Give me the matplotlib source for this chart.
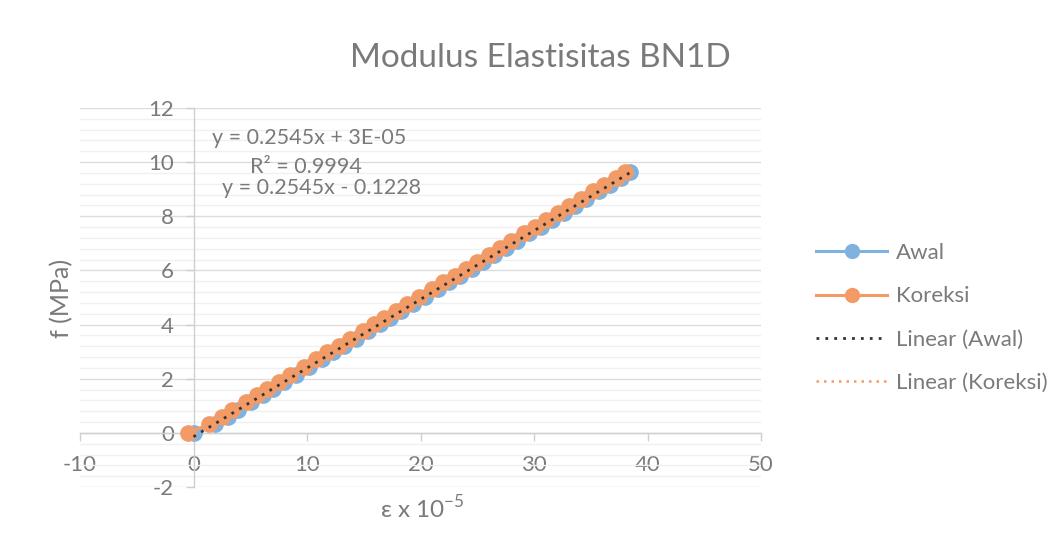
import matplotlib.pyplot as plt
import numpy as np
from matplotlib.lines import Line2D
from matplotlib.ticker import MultipleLocator

# data (strain x 10^-5, stress MPa)
koreksi_x = [-0.5, 1.4, 2.5, 3.4, 4.6, 5.6, 6.5, 7.5, 8.5, 9.7, 10.8, 11.8, 12.8,
             13.8, 14.9, 15.9, 16.8, 17.8, 18.8, 19.9, 21.0, 22.0, 23.0, 24.0, 25.0,
             26.0, 27.0, 28.0, 29.1, 30.1, 31.1, 32.1, 33.1, 34.1, 35.2, 36.2, 37.2, 38.0]
koreksi_y = [0.0, 0.32, 0.60, 0.84, 1.13, 1.39, 1.62, 1.88, 2.13, 2.44, 2.71, 2.97, 3.22,
             3.48, 3.76, 4.01, 4.24, 4.50, 4.75, 5.03, 5.30, 5.56, 5.81, 6.07, 6.32,
             6.58, 6.83, 7.09, 7.37, 7.62, 7.88, 8.13, 8.39, 8.64, 8.92, 9.17, 9.43, 9.63]

awal_x = [0.0, 1.9, 3.0, 3.9, 5.1, 6.1, 7.0, 8.0, 9.0, 10.2, 11.3, 12.3, 13.3,
          14.3, 15.4, 16.4, 17.3, 18.3, 19.3, 20.4, 21.5, 22.5, 23.5, 24.5, 25.5,
          26.5, 27.5, 28.5, 29.6, 30.6, 31.6, 32.6, 33.6, 34.6, 35.7, 36.7, 37.7, 38.5]
awal_y = [0.0, 0.32, 0.60, 0.84, 1.13, 1.39, 1.62, 1.88, 2.13, 2.44, 2.71, 2.97, 3.22,
          3.48, 3.76, 4.01, 4.24, 4.50, 4.75, 5.03, 5.30, 5.56, 5.81, 6.07, 6.32,
          6.58, 6.83, 7.09, 7.37, 7.62, 7.88, 8.13, 8.39, 8.64, 8.92, 9.17, 9.43, 9.63]

eq_awal = "y = 0.2545x + 3E-05"
r2_text = "R² = 0.9994"
eq_koreksi = "y = 0.2545x - 0.1228"

BLUE = "#80b2df"
ORANGE = "#f29b66"
TXT = "#7a7a7a"
AXC = "#cfcfcf"

plt.rcParams['font.family'] = ['Lato', 'DejaVu Sans']
plt.rcParams['mathtext.fontset'] = 'custom'
plt.rcParams['mathtext.rm'] = 'Lato'
plt.rcParams['axes.unicode_minus'] = False

W, H = 1061, 550
fig = plt.figure(figsize=(W / 100, H / 100), dpi=100)
ax = fig.add_axes([80 / W, 1 - 487 / H, (761 - 80) / W, (487 - 108) / H])

ax.set_xlim(-10, 50)
ax.set_ylim(-2, 12)

# axes cross at zero like in excel
ax.spines['left'].set_position(('data', 0))
ax.spines['bottom'].set_position(('data', 0))
ax.spines['top'].set_visible(False)
ax.spines['right'].set_visible(False)
for s in ['left', 'bottom']:
    ax.spines[s].set_color(AXC)
    ax.spines[s].set_linewidth(1.0)

ax.xaxis.set_major_locator(MultipleLocator(10))
ax.yaxis.set_major_locator(MultipleLocator(2))
ax.yaxis.set_minor_locator(MultipleLocator(0.4))
ax.tick_params(axis='both', which='major', direction='out', length=6, width=1.0,
               color=AXC, labelcolor=TXT, labelsize=16)
ax.tick_params(axis='x', pad=10)
ax.tick_params(axis='y', pad=8)
ax.tick_params(axis='y', which='minor', length=0)

ax.yaxis.grid(True, which='major', color='#dcdcdc', lw=1.0, zorder=0)
ax.yaxis.grid(True, which='minor', color='#f0f0f0', lw=1.0, zorder=0)
ax.set_axisbelow(True)

# series
ax.plot(awal_x, awal_y, color=BLUE, lw=2.2, marker='o', ms=11, zorder=3)
ax.plot(koreksi_x, koreksi_y, color=ORANGE, lw=2.2, marker='o', ms=11, zorder=4)

# linear trendlines
pa = np.polyfit(awal_x, awal_y, 1)
pk = np.polyfit(koreksi_x, koreksi_y, 1)
xa = np.array([min(awal_x), max(awal_x)])
xk = np.array([min(koreksi_x), max(koreksi_x)])
ax.plot(xk, np.polyval(pk, xk), color=ORANGE, lw=1.8, ls=(0, (1, 2)), zorder=5)
ax.plot(xa, np.polyval(pa, xa), color='#333333', lw=2.0, ls=(0, (1, 2.2)), zorder=6)

# equations
fig.text(212 / W, 1 - 138 / H, eq_awal, color=TXT, fontsize=15.5, va='center')
fig.text(250 / W, 1 - 167 / H, r2_text, color=TXT, fontsize=15.5, va='center')
fig.text(222 / W, 1 - 188 / H, eq_koreksi, color=TXT, fontsize=15.5, va='center')

# title and axis labels
fig.text(540 / W, 1 - 58 / H, "Modulus Elastisitas BN1D", color=TXT, fontsize=24,
         ha='center', va='center')
fig.text(62 / W, 1 - 298 / H, "f (MPa)", color=TXT, fontsize=18, rotation=90,
         ha='center', va='center')
fig.text(422 / W, 1 - 508 / H, "ε x 10$^{-5}$", color=TXT, fontsize=17.5,
         ha='center', va='center')

# legend
handles = [
    Line2D([], [], color=BLUE, lw=2.2, marker='o', ms=10),
    Line2D([], [], color=ORANGE, lw=2.2, marker='o', ms=10),
    Line2D([], [], color='#333333', lw=2.0, ls=(0, (1, 2.2))),
    Line2D([], [], color=ORANGE, lw=1.8, ls=(0, (1, 2))),
]
labels = ["Awal", "Koreksi", "Linear (Awal)", "Linear (Koreksi)"]
fig.legend(handles, labels, loc='center left', bbox_to_anchor=(796 / W, 1 - 318 / H),
           frameon=False, fontsize=16, labelcolor=TXT, handlelength=3.2,
           labelspacing=1.05, handletextpad=0.4)

fig.savefig("out.png", dpi=100)
